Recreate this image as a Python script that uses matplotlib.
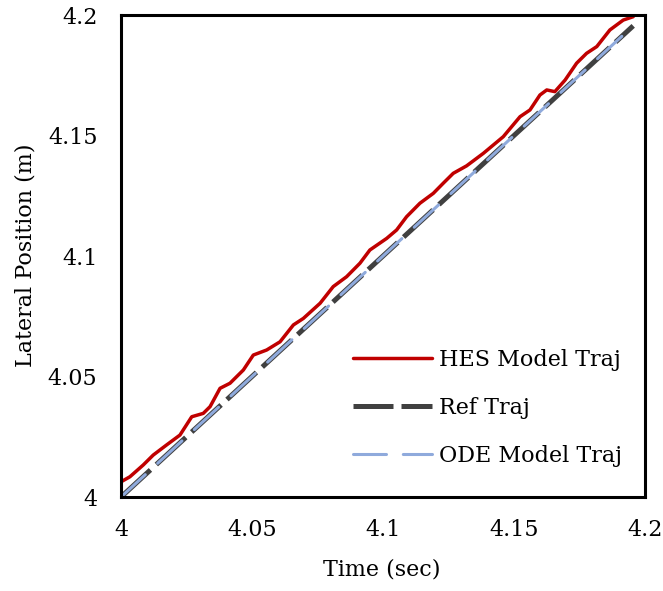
import matplotlib.pyplot as plt

plt.rcParams["font.family"] = ["DejaVu Serif"]

# HES model trajectory
t_hes = [4.0, 4.0034, 4.0085, 4.0123, 4.0174, 4.0225, 4.0270, 4.0314, 4.0340,
         4.0378, 4.0416, 4.0467, 4.0505, 4.0556, 4.0607, 4.0658, 4.0696, 4.0760,
         4.0810, 4.0861, 4.0912, 4.0950, 4.1014, 4.1052, 4.1090, 4.1141, 4.1192,
         4.1230, 4.1268, 4.1319, 4.1383, 4.1459, 4.1523, 4.1561, 4.1599, 4.1625,
         4.1656, 4.1695, 4.1739, 4.1777, 4.1816, 4.1866, 4.1917, 4.1955]
y_hes = [4.0063, 4.0084, 4.0133, 4.0174, 4.0216, 4.0257, 4.0333, 4.0347, 4.0375,
         4.0451, 4.0472, 4.0527, 4.0589, 4.0610, 4.0644, 4.0714, 4.0741, 4.0804,
         4.0873, 4.0914, 4.0970, 4.1025, 4.1073, 4.1108, 4.1163, 4.1219, 4.1260,
         4.1302, 4.1343, 4.1374, 4.1426, 4.1495, 4.1578, 4.1606, 4.1668, 4.1689,
         4.1682, 4.1730, 4.1800, 4.1841, 4.1869, 4.1938, 4.1979, 4.1993]

# reference and ODE model trajectories
t_ref = [4.0, 4.05, 4.1, 4.15, 4.1955]
y_ref = [4.0, 4.05, 4.1, 4.15, 4.1955]
t_ode = [4.0, 4.05, 4.1, 4.15, 4.1955]
y_ode = [4.0, 4.05, 4.1, 4.15, 4.1955]

ticks = [4, 4.05, 4.1, 4.15, 4.2]
tick_labels = ["4", "4.05", "4.1", "4.15", "4.2"]

fig = plt.figure(figsize=(6.63, 5.91), dpi=100)
ax = fig.add_axes([121 / 663, 94 / 591, 524 / 663, 482 / 591])

ax.plot(t_hes, y_hes, color="#C00000", lw=2.5, label="HES Model Traj",
        solid_capstyle="round", solid_joinstyle="round")
ax.plot(t_ref, y_ref, color="#404040", lw=3.6, dashes=(8, 1.6),
        label="Ref Traj")
ax.plot(t_ode, y_ode, color="#8FAADC", lw=2.2, dashes=(10.8, 5.5),
        dash_capstyle="round", label="ODE Model Traj")

ax.set_xlim(4, 4.2)
ax.set_ylim(4, 4.2)
ax.set_xticks(ticks)
ax.set_xticklabels(tick_labels)
ax.set_yticks(ticks)
ax.set_yticklabels(tick_labels)
ax.tick_params(axis="x", length=0, labelsize=16, pad=16)
ax.tick_params(axis="y", length=0, labelsize=16, pad=17)

for s in ax.spines.values():
    s.set_linewidth(2.2)
    s.set_color("black")

ax.set_xlabel("Time (sec)", fontsize=16)
ax.set_ylabel("Lateral Position (m)", fontsize=16)
ax.xaxis.set_label_coords(0.498, -0.128)
ax.yaxis.set_label_coords(-0.162, 0.502)

ax.legend(loc="upper left", bbox_to_anchor=(0.4256, 0.326), frameon=False,
          fontsize=16, handlelength=3.56, labelspacing=1.17, handletextpad=0.32,
          borderaxespad=0)

fig.savefig("out.png", dpi=100)
